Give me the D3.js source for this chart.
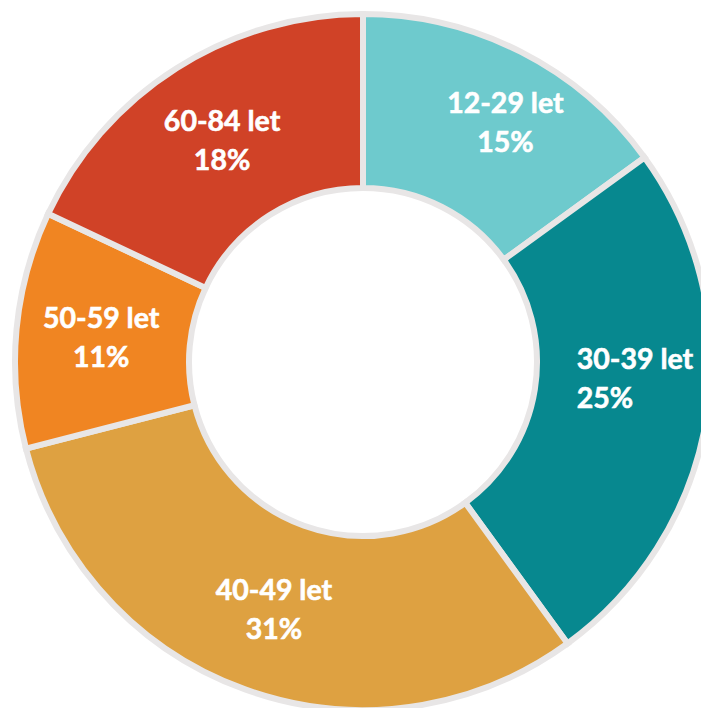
<!DOCTYPE html>
<html>
<head>
<meta charset="utf-8">
<script src="https://cdn.jsdelivr.net/npm/d3@7"></script>
<style>
	html, body { margin: 0; padding: 0; background: #fff; }
	svg { display: block; }
</style>
</head>
<body>
<svg id="chart" width="701" height="708"></svg>
<script>
// data, clockwise from 12 o'clock
var groups = ["12-29 let", "30-39 let", "40-49 let", "50-59 let", "60-84 let"];
var shares = [15, 25, 31, 11, 18];
var colors = ["#6ecacd", "#07888f", "#dea141", "#f08522", "#d04227"];

var svg = d3.select("#chart"),
	cx = 363, cy = 362,
	outerR = 348, innerR = 174, labelR = 263;

// hand-moved labels in the original
var nudge = { "12-29 let": [23, -6], "30-39 let": [-46, -25] };

var pie = d3.pie().sort(null).value(d => d.v);
var arc = d3.arc().innerRadius(innerR).outerRadius(outerR);
var labelArc = d3.arc().innerRadius(labelR).outerRadius(labelR);

var data = pie(groups.map((g, i) => ({ g: g, v: shares[i], c: colors[i] })));

var g = svg.append("g").attr("transform", "translate(" + cx + "," + cy + ")");

g.selectAll("path.slice")
	.data(data)
	.enter().append("path")
	.attr("class", "slice")
	.attr("d", arc)
	.attr("fill", d => d.data.c)
	.attr("stroke", "#e8e6e6")
	.attr("stroke-width", 6)
	.attr("stroke-linejoin", "miter");

var labels = g.selectAll("text.lbl")
	.data(data)
	.enter().append("text")
	.attr("class", "lbl")
	.attr("fill", "#fff")
	.attr("font-family", "Lato, 'Open Sans', sans-serif")
	.attr("font-weight", "bold")
	.attr("font-size", 28.5)
	.attr("stroke", "#fff")
	.attr("stroke-width", 0.6)
	.attr("text-anchor", d => d.data.g == "30-39 let" ? "start" : "middle")
	.attr("transform", function(d) {
		var p = labelArc.centroid(d);
		var n = nudge[d.data.g] || [0, 0];
		return "translate(" + (p[0] + n[0]) + "," + (p[1] + n[1]) + ")";
	});

labels.append("tspan").attr("x", 0).attr("y", -9).text(d => d.data.g);
labels.append("tspan").attr("x", 0).attr("y", 30).text(d => d.data.v + "%");
</script>
</body>
</html>
